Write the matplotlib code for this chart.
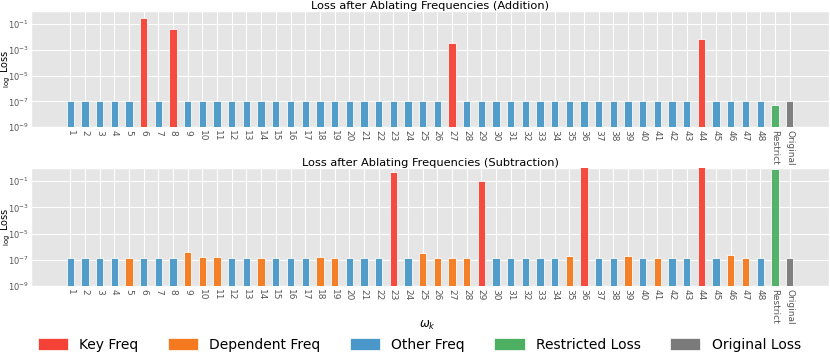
import matplotlib
matplotlib.use("Agg")
import matplotlib.pyplot as plt
from matplotlib.patches import Patch
import numpy as np

plt.style.use('ggplot')

labels = [str(i) for i in range(1, 49)] + ["Restrict", "Original"]

# Addition
add_values = [1e-7] * 48 + [5e-8, 1e-7]
add_values[5] = 0.27    # 6
add_values[7] = 0.044   # 8
add_values[26] = 0.0033 # 27
add_values[43] = 0.0066 # 44
add_key = [6, 8, 27, 44]
add_dep = []

# Subtraction
sub_values = [1.3e-7] * 48 + [0.8, 1.3e-7]
sub_overrides = {5: 1.3e-7, 9: 4.1e-7, 10: 1.6e-7, 11: 1.6e-7, 14: 1.3e-7,
                 18: 1.5e-7, 19: 1.3e-7, 23: 0.52, 25: 3.4e-7, 26: 1.35e-7,
                 27: 1.35e-7, 28: 1.35e-7, 29: 0.11, 35: 1.8e-7, 36: 1.5,
                 39: 1.9e-7, 41: 1.35e-7, 44: 1.5, 46: 2.3e-7, 47: 1.4e-7}
for k, v in sub_overrides.items():
    sub_values[k - 1] = v
sub_key = [23, 29, 36, 44]
sub_dep = [5, 9, 10, 11, 14, 18, 19, 25, 26, 27, 28, 35, 39, 41, 46, 47]

C_KEY = "#f44336"
C_DEP = "#f57a1f"
C_OTH = "#4a98c9"
C_RES = "#4caf62"
C_ORG = "#7a7a7a"

def colors_for(key, dep):
    cols = []
    for i in range(1, 49):
        if i in key:
            cols.append(C_KEY)
        elif i in dep:
            cols.append(C_DEP)
        else:
            cols.append(C_OTH)
    cols += [C_RES, C_ORG]
    return cols

fig = plt.figure(figsize=(8.3, 3.6), dpi=100)
ax1 = fig.add_axes([0.037, 0.647, 0.962, 0.322])
ax2 = fig.add_axes([0.037, 0.206, 0.962, 0.327])

x = np.arange(len(labels))
for ax, vals, key, dep, title in [
    (ax1, add_values, add_key, add_dep, "Loss after Ablating Frequencies (Addition)"),
    (ax2, sub_values, sub_key, sub_dep, "Loss after Ablating Frequencies (Subtraction)"),
]:
    ax.bar(x, vals, width=0.5, bottom=0, color=colors_for(key, dep),
           edgecolor="white", linewidth=0.6, alpha=0.95, zorder=3)
    ax.set_yscale("log")
    ax.set_ylim(1e-9, 1)
    ax.set_yticks([1e-9, 1e-7, 1e-5, 1e-3, 1e-1])
    ax.set_xlim(-2.7, 51.7)
    ax.set_xticks(x)
    ax.set_xticklabels(labels, rotation=270, fontsize=6.5, color="#555555")
    ax.tick_params(axis="y", labelsize=6, colors="#555555", length=0, pad=1.2)
    ax.tick_params(axis="x", length=0, pad=2)
    ax.minorticks_off()
    ax.set_title(title, fontsize=8.2, pad=1.5)
    ax.grid(True, color="white", linewidth=0.8, zorder=0)
    ax.set_axisbelow(True)
    pos = ax.get_position()
    fig.text(5.5 / 830, (pos.y0 + pos.y1) / 2, r"$_{\log}$ Loss", rotation=90,
             ha="center", va="center", fontsize=7, color="black")

fig.text(0.515, 0.097, r"$\omega_k$", ha="center", va="center", fontsize=8.5)

handles = [Patch(facecolor=c, edgecolor="white") for c in [C_KEY, C_DEP, C_OTH, C_RES, C_ORG]]
names = ["Key Freq", "Dependent Freq", "Other Freq", "Restricted Loss", "Original Loss"]
fig.legend(handles, names, loc="center", bbox_to_anchor=(0.505, 0.042), ncol=5,
           frameon=False, fontsize=10, handlelength=2.2, handleheight=0.9,
           columnspacing=2.1, handletextpad=0.8)

fig.savefig("out.png", dpi=100)
